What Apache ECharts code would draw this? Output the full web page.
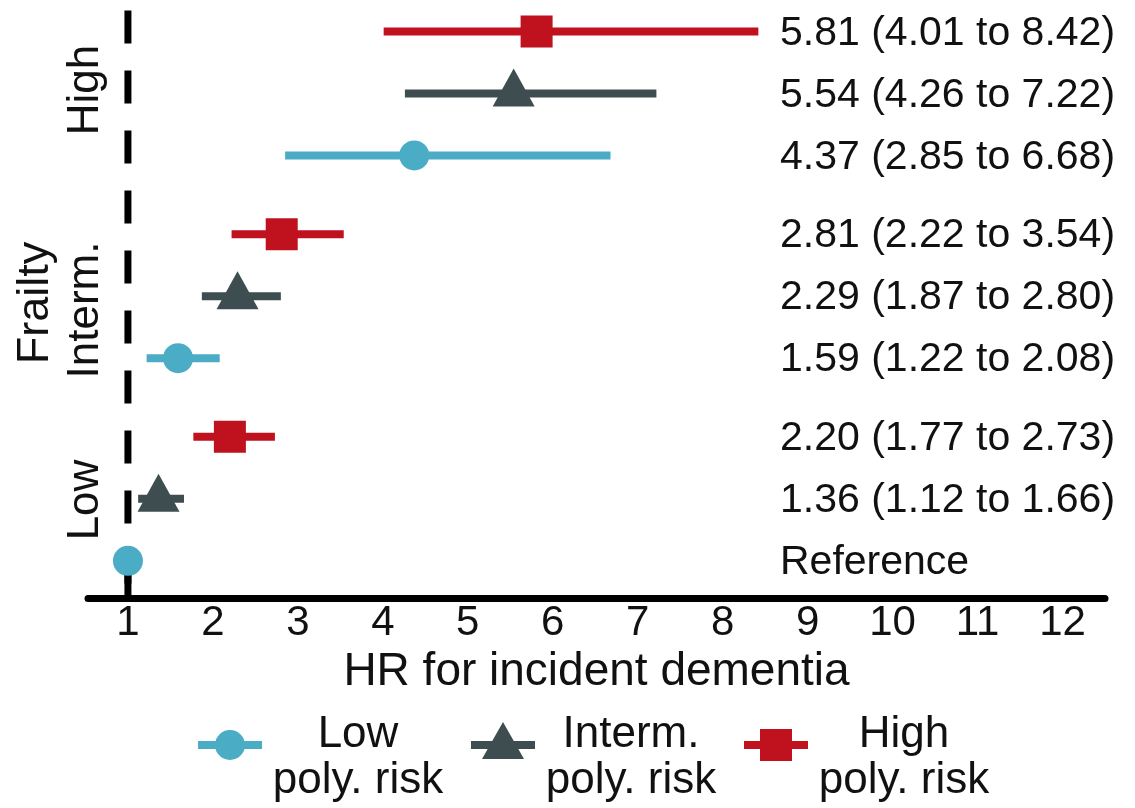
<!DOCTYPE html>
<html>
<head>
<meta charset="utf-8">
<title>HR for incident dementia</title>
<script src="https://cdn.jsdelivr.net/npm/echarts@6/dist/echarts.min.js"></script>
<style>
  html, body { margin: 0; padding: 0; background: #ffffff; }
  #chart { width: 1135px; height: 808px; }
</style>
</head>
<body>
<div id="chart"></div>
<script>
// Frailty groups, listed bottom to top
const frailtyLevels = ['Low', 'Interm.', 'High'];
// Polygenic risk groups, listed bottom to top inside each frailty group
const polyRiskNames = ['Low poly. risk', 'Interm. poly. risk', 'High poly. risk'];

// Hazard ratios with 95% CI, one value per frailty level (Low, Interm., High)
const lowPolyHR = [1.00, 1.59, 4.37];
const lowPolyLo = [1.00, 1.22, 2.85];
const lowPolyHi = [1.00, 2.08, 6.68];

const intermPolyHR = [1.36, 2.29, 5.54];
const intermPolyLo = [1.12, 1.87, 4.26];
const intermPolyHi = [1.66, 2.80, 7.22];

const highPolyHR = [2.20, 2.81, 5.81];
const highPolyLo = [1.77, 2.22, 4.01];
const highPolyHi = [2.73, 3.54, 8.42];

// The reference category (Low frailty, Low poly. risk)
const referenceLabel = 'Reference';

// x-axis tick labels
const xTicks = [1, 2, 3, 4, 5, 6, 7, 8, 9, 10, 11, 12];

const colors = ['#4BACC6', '#3E4E50', '#C0111F'];
const markerKinds = ['circle', 'triangle', 'square'];
const FONT = '"Liberation Sans", Arial, Helvetica, sans-serif';

// vertical layout of rows: groups separated by a small gap
const GROUP_STEP = 3.27;
const ROW_BASE = 0.6;
function rowY(frailtyIdx, polyIdx) {
  return ROW_BASE + frailtyIdx * GROUP_STEP + polyIdx;
}

const seriesValues = [
  [lowPolyHR, lowPolyLo, lowPolyHi],
  [intermPolyHR, intermPolyLo, intermPolyHi],
  [highPolyHR, highPolyLo, highPolyHi]
];

function makeData(p) {
  const [hr, lo, hi] = seriesValues[p];
  return frailtyLevels.map((f, g) => {
    const isRef = (g === 0 && p === 0);
    const label = isRef ? referenceLabel
      : hr[g].toFixed(2) + ' (' + lo[g].toFixed(2) + ' to ' + hi[g].toFixed(2) + ')';
    return { value: [hr[g], lo[g], hi[g], rowY(g, p)], label: label };
  });
}

function marker(kind, cx, cy, color) {
  if (kind === 'circle') {
    return { type: 'circle', shape: { cx: cx, cy: cy, r: 15 }, style: { fill: color } };
  }
  if (kind === 'square') {
    return { type: 'rect', shape: { x: cx - 16, y: cy - 16, width: 32, height: 32 }, style: { fill: color } };
  }
  return {
    type: 'polygon',
    shape: { points: [[cx, cy - 25], [cx + 21, cy + 13], [cx - 21, cy + 13]] },
    style: { fill: color }
  };
}

function makeRenderer(p) {
  const data = makeData(p);
  return function (params, api) {
    const hr = api.value(0), lo = api.value(1), hi = api.value(2), y = api.value(3);
    const c = api.coord([hr, y]);
    const a = api.coord([lo, y]);
    const b = api.coord([hi, y]);
    const color = colors[p];
    const children = [];
    if (b[0] - a[0] > 0.5) {
      children.push({
        type: 'line',
        shape: { x1: a[0], y1: a[1], x2: b[0], y2: b[1] },
        style: { stroke: color, lineWidth: 8, lineCap: 'butt' }
      });
    }
    children.push(marker(markerKinds[p], c[0], c[1], color));
    children.push({
      type: 'text',
      style: {
        x: 780, y: c[1] + 2,
        text: data[params.dataIndex].label,
        fill: '#111111',
        font: '41px ' + FONT,
        align: 'left',
        verticalAlign: 'middle'
      }
    });
    return { type: 'group', children: children };
  };
}

// legend icons: bar with the series marker, all in a 64 x 40 box
const legendIcons = [
  'path://M0,0 M64,40 M0,20 L64,20 L64,28 L0,28 Z M17,24 A15,15 0 1 1 47,24 A15,15 0 1 1 17,24 Z',
  'path://M0,0 M64,40 M0,20 L64,20 L64,28 L0,28 Z M32,1 L53,38 L11,38 Z',
  'path://M0,0 M64,40 M0,20 L64,20 L64,28 L0,28 Z M16,8 L48,8 L48,40 L16,40 Z'
];

const customSeries = polyRiskNames.map((name, p) => ({
  name: name,
  type: 'custom',
  coordinateSystem: 'cartesian2d',
  itemStyle: { color: colors[p] },
  renderItem: makeRenderer(p),
  data: makeData(p).map(d => d.value),
  z: 5
}));

const chart = echarts.init(document.getElementById('chart'), null, { renderer: 'canvas' });

chart.setOption({
  animation: false,
  backgroundColor: '#ffffff',
  grid: { left: 88, right: 30, top: 3, bottom: 210, containLabel: false },
  xAxis: {
    type: 'value',
    min: 0.53,
    max: 12.5,
    axisLine: { show: true, onZero: false, lineStyle: { color: '#000000', width: 7 } },
    axisTick: { show: false },
    splitLine: { show: false },
    axisLabel: {
      customValues: xTicks,
      formatter: v => String(v),
      color: '#111111',
      fontSize: 42,
      fontFamily: FONT,
      margin: 4
    },
    name: 'HR for incident dementia',
    nameLocation: 'middle',
    nameGap: 40,
    nameTextStyle: { color: '#111111', fontSize: 46, fontFamily: FONT, verticalAlign: 'top' }
  },
  yAxis: {
    type: 'value',
    min: 0,
    max: 9.6,
    show: false
  },
  legend: {
    left: 193,
    top: 708,
    itemWidth: 64,
    itemHeight: 40,
    itemGap: 22,
    data: polyRiskNames.map((n, i) => ({ name: n, icon: legendIcons[i] })),
    formatter: function (name) {
      const head = name.replace(' poly. risk', '');
      return '{a|' + head + '}\n{a|poly. risk}';
    },
    textStyle: {
      padding: [34, 0, 0, 0],
      rich: {
        a: { width: 182, align: 'center', fontSize: 44, lineHeight: 46, fontFamily: FONT, color: '#111111' }
      }
    },
    selectedMode: false
  },
  graphic: [
    { type: 'text', x: 86, y: 90, rotation: Math.PI / 2,
      style: { text: 'High', font: '44px ' + FONT, fill: '#111111', align: 'center', verticalAlign: 'middle' } },
    { type: 'text', x: 86, y: 310, rotation: Math.PI / 2,
      style: { text: 'Interm.', font: '44px ' + FONT, fill: '#111111', align: 'center', verticalAlign: 'middle' } },
    { type: 'text', x: 86, y: 500, rotation: Math.PI / 2,
      style: { text: 'Low', font: '44px ' + FONT, fill: '#111111', align: 'center', verticalAlign: 'middle' } },
    { type: 'text', x: 36, y: 303, rotation: Math.PI / 2,
      style: { text: 'Frailty', font: '45px ' + FONT, fill: '#111111', align: 'center', verticalAlign: 'middle' } }
  ],
  series: [
    // reference line at HR = 1, dashed from the top down
    {
      type: 'line',
      data: [[1, 9.48], [1, 0]],
      symbol: 'none',
      silent: true,
      lineStyle: { color: '#000000', width: 7, type: [33, 27], cap: 'butt' },
      z: 1
    },
    {
      type: 'line',
      data: [[1, rowY(0, 0)], [1, 0]],
      symbol: 'none',
      silent: true,
      lineStyle: { color: '#000000', width: 7, cap: 'butt' },
      z: 1
    }
  ].concat(customSeries)
});
</script>
</body>
</html>
